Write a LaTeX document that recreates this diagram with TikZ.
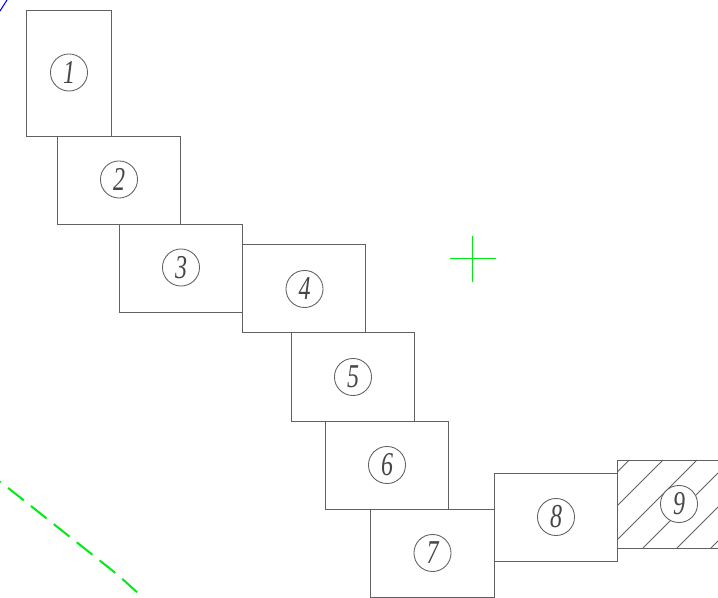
\documentclass[tikz,border=0pt]{standalone}
\usepackage{graphicx}
\usepackage{fontspec}
\setmainfont{Liberation Serif}
\definecolor{ink}{gray}{0.38}
\definecolor{cadgreen}{RGB}{0,235,20}
\tikzset{
  partbox/.style={draw=ink,line width=0.75pt},
  hatchline/.style={draw=ink,line width=0.6pt},
  partno/.style={circle,draw=ink,fill=white,line width=0.65pt,inner sep=0pt,minimum size=27.8pt,text=black!72,font=\fontsize{25}{25}\selectfont\itshape},
  greenline/.style={draw=cadgreen,line width=0.9pt},
}
\newcommand{\dg}[1]{\scalebox{0.72}[1]{#1}}
\begin{document}
\begin{tikzpicture}[x=0.75pt,y=-0.75pt]
\useasboundingbox (0,0) rectangle (718,598);
\clip (0,0) rectangle (718,598);
\draw[blue,line width=0.8pt] (0,11) -- (7,0);
\coordinate (g1) at (0,481.5); \coordinate (g2) at (118,575); \coordinate (g3) at (139,594);
\draw[greenline,line width=1.5pt,dash pattern=on 15pt off 6.9pt,dash phase=14.2pt] (g1) -- (g2) -- (g3);
\coordinate (cl) at (450,258.5); \coordinate (cr) at (496,258.5);
\coordinate (ct) at (472.5,236); \coordinate (cb) at (472.5,282);
\draw[greenline,line width=0.6pt] (cl) -- (cr);
\draw[greenline,line width=0.8pt] (ct) -- (cb);
% hatching of part 9
\foreach \a/\b/\c/\d in {629.3/460/617.5/471.8, 663/460/617.5/505.5, 697/460/617.5/539.5, 718/473/643/548, 718/507/677/548, 718/541/711/548}
  \draw[hatchline] (\a,\b) -- (\c,\d);
% parts
\foreach \x/\y/\X/\Y in {26.1/10.4/111.3/136.4, 57.5/136.4/180.7/224.4, 119.1/224.4/242.4/312.4, 242.4/244.7/365.7/332.8, 291.4/332.8/414.7/421.4, 325.1/421.4/448.3/509.8, 370.5/509.8/494.1/597.6, 494.1/473.4/617.4/561.4, 617.4/460.4/730/548.4}
  \draw[partbox] (\x,\y) rectangle (\X,\Y);
\node[partno] (n1) at (69,72.5) {\dg{1}};
\node[partno] (n2) at (119,179.5) {\dg{2}};
\node[partno] (n3) at (181,267.5) {\dg{3}};
\node[partno] (n4) at (304.5,289) {\dg{4}};
\node[partno] (n5) at (353,377) {\dg{5}};
\node[partno] (n6) at (387,465) {\dg{6}};
\node[partno] (n7) at (432.5,553) {\dg{7}};
\node[partno] (n8) at (556,517) {\dg{8}};
\node[partno] (n9) at (679,504) {\dg{9}};
\end{tikzpicture}
\end{document}
